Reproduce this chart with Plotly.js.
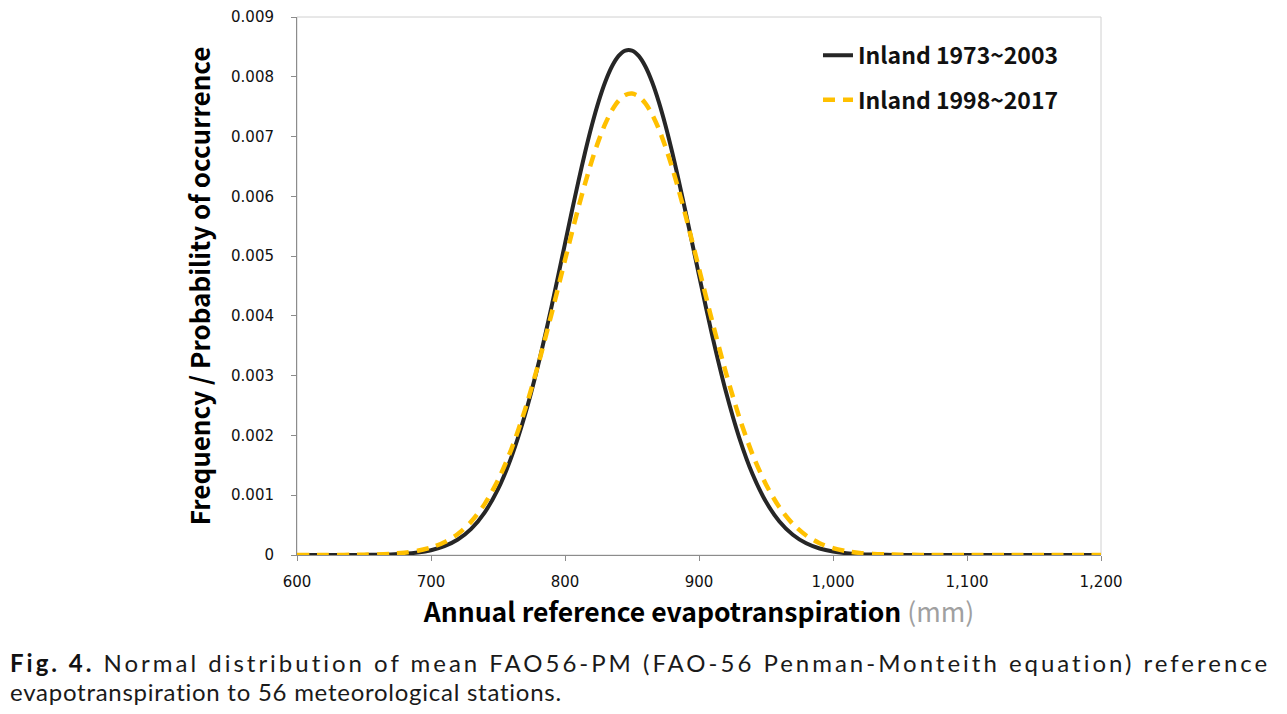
<!DOCTYPE html>
<html>
<head>
<meta charset="utf-8">
<script src="https://cdn.plot.ly/plotly-3.0.1.min.js"></script>
<style>
  html, body { margin: 0; padding: 0; background: #fff; }
  #wrap { position: relative; width: 1287px; height: 714px; overflow: hidden; }
  #chart { position: absolute; left: 0; top: 0; width: 1287px; height: 714px; }
  .cap { position: absolute; left: 10px; width: 1258px; height: 29px; overflow: visible;
    font-family: Lato, "Noto Sans", sans-serif; font-size: 24px; line-height: 29px;
    color: #1a1a1a; white-space: nowrap; }
  #cap1 { top: 648px; }
  #cap2 { top: 677px; }
  .cap b { color: #111; }
</style>
</head>
<body>
<div id="wrap">
  <div id="chart"></div>
  <div class="cap" id="cap1"><span id="capLine1"><b>Fig. 4.</b> Normal distribution of mean FAO56-PM (FAO-56 Penman-Monteith equation) reference</span></div>
  <div class="cap" id="cap2"><span id="capLine2">evapotranspiration to 56 meteorological stations.</span></div>
</div>
<script>
// ---- data ----
const evapotranspiration = [600,610,620,630,640,650,660,670,680,690,700,710,720,730,740,750,760,770,780,790,
  800,805,810,815,820,825,830,835,840,845,850,855,860,865,870,875,880,885,890,895,900,
  910,920,930,940,950,960,970,980,990,1000,1010,1020,1030,1040,1050,1060,1070,1080,1090,1100,1110,1120,1130,1140,1150,1160,1170,1180,1190,1200];

const inland1973_2003 = [0,0,0.0000001,0.0000003,0.0000008,0.000002,0.0000045,0.0000099,0.0000207,0.0000415,
  0.0000798,0.000147,0.000259,0.000438,0.00071,0.001102,0.001638,0.002333,0.003182,0.00416,
  0.00521,0.005738,0.006251,0.006738,0.007186,0.007581,0.007913,0.008172,0.008349,0.008439,
  0.008439,0.008349,0.008172,0.007913,0.007581,0.007186,0.006738,0.006251,0.005738,0.00521,0.004681,
  0.003658,0.002739,0.001965,0.00135,0.000889,0.000561,0.000339,0.000196,0.000109,
  0.0000579,0.0000295,0.0000144,0.0000067,0.000003,0.0000013,0,0,0,0,
  0,0,0,0,0,0,0,0,0,0,0];

const inland1998_2017 = [0.0000001,0.0000002,0.0000005,0.0000011,0.0000024,0.000005,0.0000103,0.0000204,0.0000388,0.0000712,
  0.000126,0.000215,0.000352,0.000558,0.000851,0.001251,0.001772,0.00242,0.003185,0.004038,
  0.004935,0.005379,0.005811,0.006218,0.006594,0.006928,0.007211,0.007438,0.0076,0.007695,
  0.007719,0.007672,0.007555,0.007372,0.007126,0.006826,0.006478,0.006091,0.005675,0.005238,0.00479,
  0.003897,0.003056,0.002308,0.00168,0.00118,0.000798,0.00052,0.000326,0.000197,
  0.000115,0.0000647,0.0000351,0.0000183,0.0000092,0.0000045,0.0000021,0.0000009,0,0,
  0,0,0,0,0,0,0,0,0,0,0];

const seriesNames = ["Inland 1973~2003", "Inland 1998~2017"];
const yTickVals = [0,0.001,0.002,0.003,0.004,0.005,0.006,0.007,0.008,0.009];
const yTickText = ["0","0.001","0.002","0.003","0.004","0.005","0.006","0.007","0.008","0.009"];
const xTickVals = [600,700,800,900,1000,1100,1200];
const xTickText = ["600","700","800","900","1,000","1,100","1,200"];

const LABEL_FONT = '"Noto Sans CJK KR", "Noto Sans", sans-serif';

const traces = [
  {
    x: evapotranspiration, y: inland1973_2003, name: seriesNames[0],
    type: 'scatter', mode: 'lines',
    line: { color: '#262626', width: 4, shape: 'spline', smoothing: 0.8 },
    legend: 'legend', hoverinfo: 'x+y'
  },
  {
    x: evapotranspiration, y: inland1998_2017, name: seriesNames[1],
    type: 'scatter', mode: 'lines',
    line: { color: '#FFC000', width: 4.5, dash: '12px,8px', shape: 'spline', smoothing: 0.8 },
    legend: 'legend2', hoverinfo: 'x+y'
  }
];

const legendFont = { family: LABEL_FONT, size: 23, color: '#111', weight: 'bold' };

const layout = {
  width: 1287, height: 714,
  margin: { l: 297, r: 186, t: 17, b: 159 },
  paper_bgcolor: '#ffffff', plot_bgcolor: '#ffffff',
  showlegend: true,
  xaxis: {
    range: [600, 1200], showgrid: false, zeroline: false,
    showline: true, linecolor: '#8c8c8c', linewidth: 1,
    ticks: 'outside', ticklen: 5, tickcolor: '#8c8c8c', tickwidth: 1,
    tickvals: xTickVals, ticktext: xTickText, ticklabelstandoff: 8,
    tickfont: { family: 'DejaVu Sans', size: 15, color: '#111' },
    title: { text: '<b>Annual reference evapotranspiration</b> <span style="color:#a0a0a0">(mm)</span>',
             font: { family: LABEL_FONT, size: 26.5, color: '#000' }, standoff: 11 }
  },
  yaxis: {
    range: [0, 0.009], showgrid: false, zeroline: false,
    showline: true, linecolor: '#8c8c8c', linewidth: 1,
    ticks: 'outside', ticklen: 5, tickcolor: '#8c8c8c', tickwidth: 1,
    tickvals: yTickVals, ticktext: yTickText, ticklabelstandoff: 14,
    tickfont: { family: 'DejaVu Sans', size: 15, color: '#111' },
    title: { text: '<b>Frequency / Probability of occurrence</b>',
             font: { family: LABEL_FONT, size: 26, color: '#000' }, standoff: 12 }
  },
  shapes: [
    { type: 'rect', xref: 'paper', yref: 'paper', x0: 0, x1: 1, y0: 0, y1: 1,
      line: { color: '#d0d0d0', width: 1 }, layer: 'below' }
  ],
  legend: {
    x: 0.648, y: 0.929, xanchor: 'left', yanchor: 'middle',
    bgcolor: 'rgba(0,0,0,0)', borderwidth: 0, font: legendFont, itemwidth: 30
  },
  legend2: {
    x: 0.648, y: 0.846, xanchor: 'left', yanchor: 'middle',
    bgcolor: 'rgba(0,0,0,0)', borderwidth: 0, font: legendFont, itemwidth: 30
  }
};

Plotly.newPlot('chart', traces, layout, { displayModeBar: false, staticPlot: true });

function fitLine(id, target) {
  const el = document.getElementById(id);
  el.style.letterSpacing = '0px';
  const w = el.getBoundingClientRect().width;
  const n = el.textContent.length;
  const spacing = Math.max(0, (target - w) / (n - 1));
  el.style.letterSpacing = spacing.toFixed(3) + 'px';
}
function layoutCaption() {
  fitLine('capLine1', 1258);
  fitLine('capLine2', 552);
}
if (document.fonts && document.fonts.ready) {
  document.fonts.ready.then(layoutCaption);
} else {
  layoutCaption();
}
</script>
</body>
</html>
